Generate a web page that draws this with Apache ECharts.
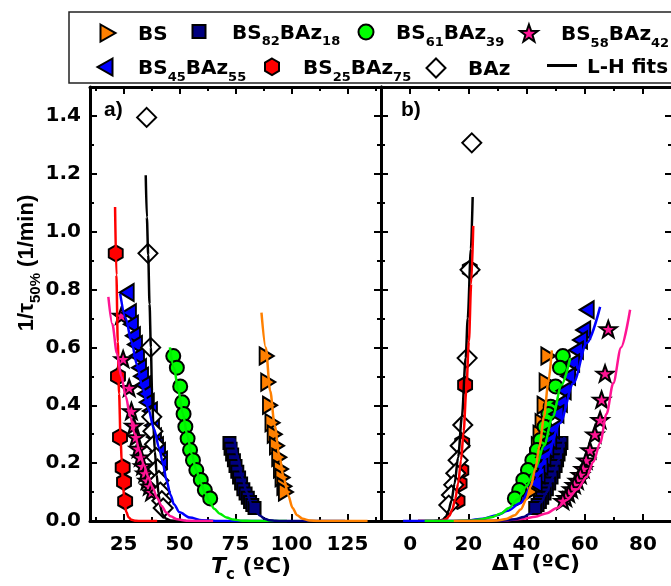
<!DOCTYPE html>
<html><head><meta charset="utf-8">
<script src="https://cdn.jsdelivr.net/npm/echarts@6/dist/echarts.min.js"></script>
<style>html,body{margin:0;padding:0;background:#fff}#c{width:671px;height:586px}</style>
</head><body><div id="c"></div>
<script>
// ---------- tick values ----------
const tcMajor = [25, 50, 75, 100, 125];
const tcMinor = [12.5, 37.5, 62.5, 87.5, 112.5, 137.5];
const dtMajor = [0, 20, 40, 60, 80];
const dtMinor = [10, 30, 50, 70];
const yMajor = [0, 0.2, 0.4, 0.6, 0.8, 1.0, 1.2, 1.4];
const yMinor = [0.1, 0.3, 0.5, 0.7, 0.9, 1.1, 1.3];

// ---------- panel a) : Tc (ºC) vs 1/tau ----------
const bsA = [[88.9,0.57],[89.6,0.48],[90.4,0.40],[91.5,0.34],[92.5,0.30],[93.5,0.26],[94.5,0.22],[95.3,0.18],[96.0,0.15],[96.8,0.12],[97.5,0.10]];
const bsAFit = [[86.6,0.72],[88.5,0.60],[90.5,0.45],[92.5,0.33],[94.5,0.23],[96.5,0.15],[98.5,0.09],[100.5,0.045],[102.5,0.02],[105,0.008],[108,0.002],[112,0],[134,0]];
const bs82A = [[72.3,0.27],[72.8,0.25],[73.5,0.23],[74.3,0.21],[75,0.19],[75.8,0.17],[76.6,0.15],[77.5,0.13],[78.5,0.11],[79.5,0.095],[80.5,0.08],[81.5,0.066],[82.5,0.055],[83.5,0.045]];
const bs82AFit = [[74.5,0.285],[76,0.22],[78,0.15],[80,0.10],[82,0.06],[84,0.035],[86,0.018],[88,0.008],[90,0.003],[93,0.0005],[96,0],[124,0]];
const bs61A = [[47.2,0.57],[48.8,0.53],[50.3,0.465],[51.2,0.41],[51.8,0.37],[52.6,0.326],[53.6,0.285],[54.7,0.245],[56,0.21],[57.5,0.176],[59.5,0.142],[61.3,0.107],[63.7,0.078]];
const bs61AFit = [[45.7,0.60],[47.5,0.53],[49.5,0.45],[51.5,0.37],[53.5,0.295],[55.5,0.23],[57.5,0.175],[59.5,0.13],[61.5,0.095],[63.5,0.065],[65.5,0.042],[68,0.025],[71,0.012],[74,0.005],[78,0.001],[82,0],[98,0]];
const bs58A = [[24.0,0.71],[24.8,0.56],[27.5,0.46],[28.5,0.38],[29.5,0.33],[30.5,0.29],[31.5,0.25],[32.5,0.22],[33.5,0.19],[34.5,0.165],[35.5,0.14],[36.5,0.12],[37.5,0.10]];
const bs58AFit = [[18.2,0.775],[20,0.68],[22,0.58],[24,0.50],[26,0.43],[28,0.36],[30,0.30],[32,0.245],[34,0.195],[36,0.153],[38,0.115],[40,0.08],[42,0.052],[44,0.03],[46,0.016],[49,0.006],[53,0.001],[57,0],[65,0]];
const bs45A = [[26.4,0.79],[27.4,0.72],[28.3,0.68],[29.2,0.64],[30.1,0.61],[31,0.57],[31.9,0.53],[32.8,0.50],[33.7,0.47],[34.6,0.44],[35.4,0.41],[36.8,0.38],[37.7,0.33],[38.6,0.29],[39.5,0.26],[40.4,0.24],[41.3,0.21]];
const bs45AFit = [[23.5,0.785],[26,0.70],[28.5,0.62],[31,0.54],[33.5,0.46],[36,0.39],[38.5,0.32],[41,0.25],[42.5,0.20],[44.2,0.14],[46,0.09],[47.5,0.058],[50,0.03],[54.6,0.012],[60,0.003],[66,0],[92,0]];
const bs25A = [[21.5,0.925],[22.5,0.50],[23.4,0.29],[24.6,0.185],[25.2,0.135],[25.7,0.068]];
const bs25AFit = [[21.2,1.085],[21.8,0.85],[22.4,0.62],[23,0.44],[23.6,0.30],[24.2,0.20],[24.8,0.12],[25.4,0.065],[26.2,0.032],[27.2,0.013],[28.5,0.004],[30.5,0.0005],[33,0],[40,0]];
const bazA = [[35.3,1.395],[35.9,0.925],[37.1,0.60],[37.6,0.36],[38.1,0.31],[38.8,0.265],[39.5,0.22],[40.1,0.18],[40.8,0.14],[41.4,0.10],[42.1,0.07],[42.7,0.045]];
const bazAFit = [[34.9,1.195],[35.4,1.05],[36,0.92],[36.6,0.75],[37.2,0.60],[37.7,0.45],[38.3,0.33],[39,0.24],[39.8,0.16],[40.6,0.095],[41.4,0.05],[42.5,0.022],[44,0.008],[46,0.002],[49,0],[53,0]];

// ---------- panel b) : deltaT (ºC) vs 1/tau ----------
const bsB = [[47.5,0.57],[46.9,0.48],[46.2,0.40],[45.5,0.34],[44.8,0.30],[44.2,0.26],[43.6,0.22],[43.0,0.18],[42.5,0.15],[42.0,0.12],[41.5,0.10]];
const bsBFit = [[48.7,0.59],[47.5,0.48],[46,0.36],[44.5,0.26],[43,0.18],[41.5,0.12],[40,0.075],[38,0.04],[36,0.02],[33,0.007],[30,0.002],[26,0],[15,0]];
const bs82B = [[52,0.27],[51.5,0.25],[51,0.23],[50.5,0.21],[50,0.19],[49.3,0.17],[48.6,0.15],[47.8,0.13],[47,0.11],[46.2,0.095],[45.4,0.08],[44.6,0.066],[43.8,0.055],[43,0.045]];
const bs82BFit = [[53,0.29],[51,0.21],[49,0.15],[47,0.10],[45,0.065],[43,0.04],[41,0.024],[39,0.014],[36,0.006],[32,0.002],[28,0],[20,0]];
const bs61B = [[52.5,0.57],[51.5,0.53],[50,0.465],[48.3,0.395],[47.5,0.37],[46.2,0.326],[44.8,0.28],[43.6,0.245],[42,0.21],[40.5,0.176],[38.9,0.142],[37.5,0.107],[36,0.078]];
const bs61BFit = [[55,0.563],[52,0.47],[49,0.36],[46,0.26],[43,0.18],[40,0.12],[37,0.075],[34,0.045],[31,0.025],[28,0.013],[24,0.005],[20,0.001],[16,0],[5,0]];
const bs58B = [[68.1,0.663],[67,0.51],[65.8,0.42],[65.3,0.35],[63.5,0.30],[61.8,0.245],[60.5,0.21],[59.5,0.18],[58.5,0.16],[57.5,0.14],[56.5,0.125],[55.5,0.11],[54.5,0.095],[53.5,0.08],[52.5,0.07]];
const bs58BFit = [[75.6,0.73],[72.5,0.60],[69.8,0.476],[67.5,0.37],[65.3,0.27],[63,0.205],[60.7,0.153],[57.5,0.11],[53.8,0.073],[50.5,0.045],[47,0.027],[43,0.015],[38.9,0.008],[33,0.003],[27,0.001],[20,0],[10,0]];
const bs45B = [[60.7,0.73],[59.5,0.66],[58.4,0.626],[57,0.59],[55.7,0.546],[54.3,0.50],[52.8,0.45],[51.5,0.407],[50.3,0.37],[48.8,0.315],[47.8,0.28],[46.8,0.25],[45.8,0.22],[44.8,0.19],[43.8,0.16],[42.8,0.13]];
const bs45BFit = [[65.3,0.74],[60.7,0.615],[56.1,0.476],[51.5,0.338],[47,0.222],[42.3,0.13],[37.8,0.061],[33.5,0.035],[29.8,0.02],[25,0.008],[20,0.002],[14,0],[-2.4,0]];
const bs25B = [[20.5,0.87],[18.9,0.47],[17.9,0.27],[17.6,0.175],[17,0.13],[16.3,0.07]];
const bs25BFit = [[21.7,1.02],[21,0.82],[20.2,0.62],[19.3,0.45],[18.4,0.31],[17.5,0.21],[16.5,0.13],[15.5,0.075],[14.5,0.04],[13.5,0.018],[12.5,0.007],[11,0.001],[9,0],[2.7,0]];
const bazB = [[21.2,1.307],[20.6,0.868],[19.6,0.563],[18.1,0.332],[17.2,0.26],[16.5,0.21],[15.7,0.165],[15,0.125],[14.2,0.09],[13.3,0.055]];
const bazBFit = [[21.5,1.12],[20.9,0.94],[19.8,0.70],[19.1,0.563],[17.8,0.36],[16.5,0.22],[15.3,0.13],[14.2,0.07],[13.2,0.035],[12.3,0.015],[11.2,0.004],[10,0.001],[8,0],[2.7,0]];

// ---------- styling ----------
const FONT = '"Liberation Sans", Arial, sans-serif';
const WFONT = '"DejaVu Sans", sans-serif';
const SYM = {
  right: 'path://M0,0L14,8L0,16Z',
  left: 'path://M14,0L0,8L14,16Z',
  hex: 'path://M8,0L15.6,4.5L15.6,13.5L8,18L0.4,13.5L0.4,4.5Z',
  star: 'path://M10,0L12.35,6.76L19.51,6.91L13.8,11.24L15.88,18.09L10,14L4.12,18.09L6.2,11.24L0.49,6.91L7.65,6.76Z'
};
const C = {bs:'#FF8000', bs82:'#00007F', bs61:'#00FF00', bs58:'#FF1493', bs45:'#0000FF', bs25:'#FF0000', baz:'#FFFFFF'};
const L = {bs:'#FF8000', bs82:'#00007F', bs61:'#00EE00', bs58:'#FF1493', bs45:'#0000FF', bs25:'#FF0000', baz:'#000000'};

const chart = echarts.init(document.getElementById('c'), null, {renderer:'canvas'});

const tickLine = {color:'#000', width:2};
const labelStyle = {color:'#000', fontSize:20, fontWeight:'bold', fontFamily:WFONT};
function xAxes(grid, min, max, major, minor) {
  const c = {type:'value', gridIndex:grid, min:min, max:max, splitLine:{show:false}, splitArea:{show:false}};
  return [
    Object.assign({}, c, {position:'bottom', axisLine:{show:true, onZero:false, lineStyle:{color:'#000', width:3}},
      axisTick:{show:true, inside:true, length:7, lineStyle:tickLine, customValues:major},
      axisLabel:Object.assign({show:true, customValues:major, margin:14}, labelStyle)}),
    Object.assign({}, c, {position:'bottom', axisLine:{show:false, onZero:false},
      axisTick:{show:true, inside:true, length:4, lineStyle:tickLine, customValues:minor}, axisLabel:{show:false}}),
    Object.assign({}, c, {position:'top', axisLine:{show:true, onZero:false, lineStyle:{color:'#000', width:3}},
      axisTick:{show:true, inside:true, length:7, lineStyle:tickLine, customValues:major}, axisLabel:{show:false}}),
    Object.assign({}, c, {position:'top', axisLine:{show:false, onZero:false},
      axisTick:{show:true, inside:true, length:4, lineStyle:tickLine, customValues:minor}, axisLabel:{show:false}})
  ];
}
function yAxes(grid, showLabels) {
  const c = {type:'value', gridIndex:grid, min:0, max:1.5, splitLine:{show:false}, splitArea:{show:false}};
  return [
    Object.assign({}, c, {position:'left', axisLine:{show:true, onZero:false, lineStyle:{color:'#000', width:3}},
      axisTick:{show:true, inside:true, length:7, lineStyle:tickLine, customValues:yMajor},
      axisLabel:Object.assign({show:showLabels, customValues:yMajor, margin:9, formatter: v => v.toFixed(1)}, labelStyle)}),
    Object.assign({}, c, {position:'left', axisLine:{show:false, onZero:false},
      axisTick:{show:true, inside:true, length:4, lineStyle:tickLine, customValues:yMinor}, axisLabel:{show:false}}),
    Object.assign({}, c, {position:'right', axisLine:{show:true, onZero:false, lineStyle:{color:'#000', width:3}},
      axisTick:{show:true, inside:true, length:7, lineStyle:tickLine, customValues:yMajor}, axisLabel:{show:false}}),
    Object.assign({}, c, {position:'right', axisLine:{show:false, onZero:false},
      axisTick:{show:true, inside:true, length:4, lineStyle:tickLine, customValues:yMinor}, axisLabel:{show:false}})
  ];
}

function scatter(name, data, xi, yi, sym, size, color) {
  return {type:'scatter', name:name, data:data, xAxisIndex:xi, yAxisIndex:yi, symbol:sym, symbolSize:size,
    itemStyle:{color:color, borderColor:'#000', borderWidth:2, opacity:1}, z:2, silent:true, animation:false};
}
function fit(data, xi, yi, color) {
  return {type:'line', name:'L-H fits', data:data, xAxisIndex:xi, yAxisIndex:yi, symbol:'none', showSymbol:false,
    smooth:0.3, smoothMonotone:'x', lineStyle:{color:color, width:2.5}, itemStyle:{color:color}, z:3, silent:true, animation:false};
}

const mats = [
  ['BS', bsA, bsAFit, bsB, bsBFit, SYM.right, [14,17], 'bs'],
  ['BS82BAz18', bs82A, bs82AFit, bs82B, bs82BFit, 'rect', 12, 'bs82'],
  ['BS61BAz39', bs61A, bs61AFit, bs61B, bs61BFit, 'circle', 14, 'bs61'],
  ['BS58BAz42', bs58A, bs58AFit, bs58B, bs58BFit, SYM.star, [17,16], 'bs58'],
  ['BS45BAz55', bs45A, bs45AFit, bs45B, bs45BFit, SYM.left, [14,17], 'bs45'],
  ['BS25BAz75', bs25A, bs25AFit, bs25B, bs25BFit, SYM.hex, [14,16], 'bs25'],
  ['BAz', bazA, bazAFit, bazB, bazBFit, 'diamond', 19, 'baz']
];
const series = [];
mats.forEach(m => {
  series.push(scatter(m[0], m[1], 0, 0, m[5], m[6], C[m[7]]));
  series.push(scatter(m[0], m[3], 4, 4, m[5], m[6], C[m[7]]));
});
mats.slice().reverse().forEach(m => {
  series.push(fit(m[2], 0, 0, L[m[7]]));
  series.push(fit(m[4], 4, 4, L[m[7]]));
});

const rich = {
  b:{fontFamily:WFONT, fontSize:20, fontWeight:'bold', color:'#000', lineHeight:24, verticalAlign:'bottom', padding:[0,0,5,0]},
  s:{fontFamily:WFONT, fontSize:13, fontWeight:'bold', color:'#000', verticalAlign:'bottom'}
};
const legendText = {
  'BS':'{b|BS}', 'BS82BAz18':'{b|BS}{s|82}{b|BAz}{s|18}', 'BS61BAz39':'{b|BS}{s|61}{b|BAz}{s|39}',
  'BS58BAz42':'{b|BS}{s|58}{b|BAz}{s|42}', 'BS45BAz55':'{b|BS}{s|45}{b|BAz}{s|55}',
  'BS25BAz75':'{b|BS}{s|25}{b|BAz}{s|75}', 'BAz':'{b|BAz}', 'L-H fits':'{b|L-H fits}'
};
function leg(name, cx, cy, iw, ih, textX) {
  const o = {show:true, data:[name], left:cx - iw/2, top:cy - 9.5, itemWidth:iw, itemHeight:ih, padding:0, itemGap:0,
    selectedMode:false, orient:'horizontal', formatter: n => legendText[n],
    textStyle:{color:'#000', padding:[10,0,0,Math.max(0, textX - (cx + iw/2 + 5))], rich:rich},
    itemStyle:{borderColor:'#000', borderWidth:2}};
  if (name === 'L-H fits') {
    o.data = [{name:name, icon:'rect', itemStyle:{color:'#000', borderWidth:0}}];
    o.itemStyle = {color:'#000', borderWidth:0};
  }
  return o;
}
const legends = [
  leg('BS', 107, 33, 15, 19, 137),
  leg('BS82BAz18', 198, 33, 13, 13, 231),
  leg('BS61BAz39', 365, 33, 15, 15, 395),
  leg('BS58BAz42', 528, 33, 18, 17, 560),
  leg('BS45BAz55', 104, 67, 15, 19, 137),
  leg('BS25BAz75', 271, 67, 14, 17, 302),
  leg('BAz', 435, 67, 19, 19, 467),
  leg('L-H fits', 562, 67, 30, 3, 587)
];

const titleRich = {
  n:{fontFamily:WFONT, fontSize:22, fontWeight:'bold', color:'#000', lineHeight:26, verticalAlign:'bottom', padding:[0,0,5,0]},
  i:{fontFamily:WFONT, fontSize:22, fontWeight:'bold', fontStyle:'italic', color:'#000', lineHeight:26, verticalAlign:'bottom', padding:[0,0,5,0]},
  s:{fontFamily:WFONT, fontSize:15, fontWeight:'bold', color:'#000', verticalAlign:'bottom'}
};
const yTitleRich = {
  n:{fontFamily:FONT, fontSize:22, fontWeight:'bold', color:'#000', lineHeight:26, verticalAlign:'bottom', padding:[0,0,5,0]},
  s:{fontFamily:FONT, fontSize:15, fontWeight:'bold', color:'#000', verticalAlign:'bottom'}
};

chart.setOption({
  animation:false,
  backgroundColor:'#fff',
  grid:[
    {left:90, top:87, width:291, height:434, outerBoundsMode:'none', containLabel:false},
    {left:381, top:87, width:291, height:434, outerBoundsMode:'none', containLabel:false}
  ],
  xAxis: xAxes(0, 10, 140, tcMajor, tcMinor).concat(xAxes(1, -10, 90, dtMajor, dtMinor)),
  yAxis: yAxes(0, true).concat(yAxes(1, false)),
  legend: legends,
  series: series,
  graphic:[
    {type:'rect', shape:{x:69, y:12, width:620, height:71}, style:{fill:'none', stroke:'#222', lineWidth:1.5}, z:-1, silent:true},
    {type:'text', x:104, y:110, style:{text:'a)', font:'bold 21px ' + FONT, fill:'#000', verticalAlign:'middle', align:'left'}, silent:true},
    {type:'text', x:401, y:110, style:{text:'b)', font:'bold 21px ' + FONT, fill:'#000', verticalAlign:'middle', align:'left'}, silent:true},
    {type:'text', x:251, y:570, style:{text:'{i|T}{s|c}{n| (ºC)}', rich:titleRich, align:'center', verticalAlign:'middle'}, silent:true},
    {type:'text', x:536, y:567, style:{text:'{n|ΔT (ºC)}', rich:titleRich, align:'center', verticalAlign:'middle'}, silent:true},
    {type:'text', x:30, y:263, rotation:Math.PI/2, style:{text:'{n|1/τ}{s|50%}{n| (1/min)}', rich:yTitleRich, align:'center', verticalAlign:'middle'}, silent:true}
  ]
});
</script></body></html>
